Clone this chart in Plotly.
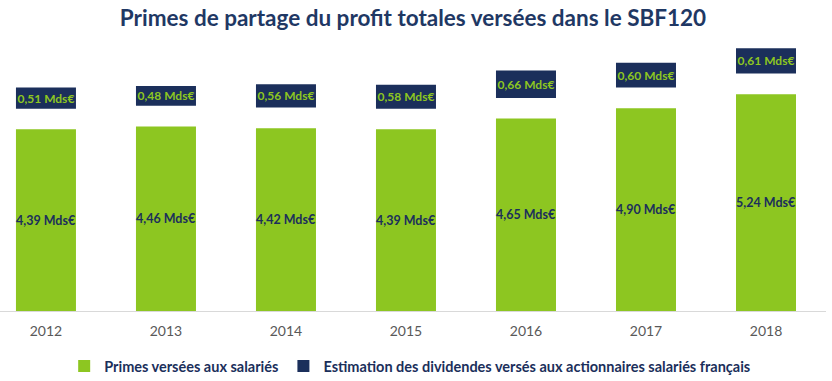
import plotly.graph_objects as go

years = ["2012", "2013", "2014", "2015", "2016", "2017", "2018"]
primes = [4.39, 4.46, 4.42, 4.39, 4.65, 4.90, 5.24]
dividendes = [0.51, 0.48, 0.56, 0.58, 0.66, 0.60, 0.61]

GREEN = "#8DC621"
NAVY = "#1B2F5B"
GAP = 0.5  # visual gap between the two segments
FONT = "Lato"

def fmt(v):
    return f"{v:.2f}".replace(".", ",") + " Mds€"

fig = go.Figure()
fig.add_trace(go.Bar(
    x=years, y=primes, name="Primes versées aux salariés",
    marker=dict(color=GREEN, line=dict(width=0)),
    text=[fmt(v) for v in primes], textposition="inside",
    insidetextanchor="middle", textangle=0, constraintext="none",
    textfont=dict(family=FONT, size=12.5, color=NAVY, weight="bold"),
    hoverinfo="x+y",
))
fig.add_trace(go.Bar(
    x=years, y=dividendes, base=[p + GAP for p in primes],
    name="Estimation des dividendes versés aux actionnaires salariés français",
    marker=dict(color=NAVY, line=dict(width=0)),
    text=[fmt(v) for v in dividendes], textposition="inside",
    insidetextanchor="middle", textangle=0, constraintext="none",
    textfont=dict(family=FONT, size=12, color=GREEN, weight="bold"),
    hoverinfo="x+y",
))

fig.update_layout(
    width=832, height=381,
    margin=dict(l=0, r=6, t=40, b=70, autoexpand=False),
    paper_bgcolor="white", plot_bgcolor="white",
    barmode="overlay", bargap=0.5,
    title=dict(text="<b>Primes de partage du profit totales versées dans le SBF120</b>",
               x=0.5, xanchor="center", xref="paper", y=0.952, yref="container",
               yanchor="middle",
               font=dict(family=FONT, size=22.5, color="#1F3864")),
    xaxis=dict(type="category", range=[-0.383, 6.5], showline=True,
               linecolor="#D9D9D9", linewidth=1, ticks="", showgrid=False,
               automargin=False, ticklabelstandoff=7,
               tickfont=dict(family=FONT, size=14, color="#595959")),
    yaxis=dict(range=[0, 6.55], visible=False, showgrid=False, automargin=False),
    showlegend=True,
    legend=dict(orientation="h", x=0.493, xanchor="center", xref="container",
                y=0.039, yref="container", yanchor="middle",
                font=dict(family=FONT, size=14.5, color=NAVY, weight="bold"),
                traceorder="normal", itemwidth=30),
)

fig.write_html("out.html", config={"displayModeBar": False},
               post_script="document.body.style.margin='0';")
